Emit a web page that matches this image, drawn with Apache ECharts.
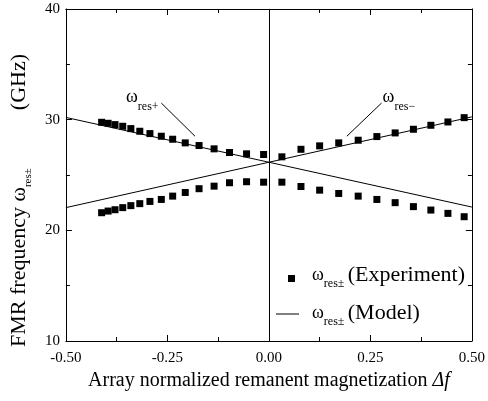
<!DOCTYPE html>
<html>
<head>
<meta charset="utf-8">
<script src="https://cdn.jsdelivr.net/npm/echarts@6/dist/echarts.min.js"></script>
<style>
  html, body { margin: 0; padding: 0; background: #fff; }
  #chart { width: 488px; height: 401px; }
</style>
</head>
<body>
<div id="chart"></div>
<script>
// measured points (Experiment)
var expX = [-0.412, -0.396, -0.379, -0.360, -0.340, -0.318, -0.293, -0.265, -0.237, -0.206, -0.172, -0.135, -0.097, -0.055, -0.013,
            0.032, 0.079, 0.125, 0.172, 0.220, 0.266, 0.311, 0.356, 0.399, 0.441, 0.481];
var expUpper = [29.76, 29.67, 29.55, 29.40, 29.19, 28.95, 28.74, 28.50, 28.23, 27.90, 27.66, 27.36, 27.03, 26.91, 26.85,
                26.64, 27.32, 27.63, 27.90, 28.14, 28.47, 28.80, 29.13, 29.49, 29.79, 30.18];
var expLower = [21.59, 21.74, 21.86, 22.05, 22.23, 22.41, 22.61, 22.79, 23.09, 23.42, 23.76, 23.99, 24.30, 24.39, 24.35,
                24.35, 23.96, 23.63, 23.33, 23.09, 22.79, 22.50, 22.14, 21.83, 21.53, 21.23];

// model lines (end points)
var modelX = [-0.5, 0.5];
var modelPlus = [30.2, 22.1];
var modelMinus = [22.05, 30.25];

// leader lines for the two labels, in data units
var leaderPlus = [[-0.265, 31.5], [-0.182, 28.5]];
var leaderMinus = [[0.2775, 31.5], [0.192, 28.5]];
var labelPlusAt = [-0.352, 32.8];
var labelMinusAt = [0.28, 32.8];

var FONT = '"Liberation Serif", "Times New Roman", serif';

function pairs(xs, ys) {
  return xs.map(function (x, i) { return [x, ys[i]]; });
}

var chart = echarts.init(document.getElementById('chart'));

var axisBase = {
  type: 'value',
  axisLine: { show: true, onZero: false, lineStyle: { color: '#000', width: 1 } },
  axisTick: { show: true, inside: true, length: 6, lineStyle: { color: '#000' } },
  minorTick: { show: true, splitNumber: 2, length: 4, lineStyle: { color: '#000' } },
  splitLine: { show: false },
  minorSplitLine: { show: false }
};

function xAx(pos) {
  return Object.assign({}, axisBase, {
    position: pos,
    min: -0.5, max: 0.5, interval: 0.25,
    axisLabel: {
      show: pos === 'bottom', color: '#000', fontFamily: FONT, fontSize: 15, margin: 10,
      formatter: function (v) { return v.toFixed(2); }
    },
    name: pos === 'bottom' ? 'Array normalized remanent magnetization {i|Δf}' : '',
    nameLocation: 'middle',
    nameGap: 30,
    nameTextStyle: {
      color: '#000', fontFamily: FONT, fontSize: 20,
      rich: { i: { fontFamily: FONT, fontSize: 20, fontStyle: 'italic', color: '#000' } }
    }
  });
}

function yAx(pos) {
  return Object.assign({}, axisBase, {
    position: pos,
    min: 10, max: 40, interval: 10,
    axisLabel: { show: pos === 'left', color: '#000', fontFamily: FONT, fontSize: 15, margin: 6 },
    name: pos === 'left' ? '{t|FMR frequency }{w|ω}{s|res±}{g|(GHz)}' : '',
    nameLocation: 'middle',
    nameRotate: 90,
    nameGap: 31,
    nameTextStyle: {
      color: '#000', fontFamily: FONT, fontSize: 22,
      rich: {
        t: { fontFamily: FONT, fontSize: 22, color: '#000', lineHeight: 30, verticalAlign: 'middle' },
        w: { fontFamily: FONT, fontSize: 22, color: '#000', lineHeight: 30, verticalAlign: 'middle' },
        s: { fontFamily: FONT, fontSize: 11, color: '#000', lineHeight: 30, verticalAlign: 'bottom' },
        g: { fontFamily: FONT, fontSize: 22, color: '#000', lineHeight: 30, verticalAlign: 'middle', padding: [0, 51, 0, 58] }
      }
    }
  });
}

var subRich = {
  w: { fontFamily: FONT, fontSize: 18, color: '#000', lineHeight: 30, verticalAlign: 'middle' },
  s: { fontFamily: FONT, fontSize: 12, color: '#000', lineHeight: 30, verticalAlign: 'bottom' },
  t: { fontFamily: FONT, fontSize: 22, color: '#000', lineHeight: 30, verticalAlign: 'middle' }
};

var option = {
  animation: false,
  backgroundColor: '#fff',
  grid: { left: 65, right: 14, top: 8, bottom: 60, containLabel: false },
  xAxis: [xAx('bottom'), xAx('top')],
  yAxis: [yAx('left'), yAx('right')],
  series: [
    {
      name: 'Experiment',
      type: 'scatter',
      symbol: 'rect',
      symbolSize: 7,
      itemStyle: { color: '#000', opacity: 1 },
      data: pairs(expX, expUpper).concat(pairs(expX, expLower)),
      z: 3
    },
    {
      name: 'Model+',
      type: 'line',
      symbol: 'none',
      lineStyle: { color: '#000', width: 1 },
      data: pairs(modelX, modelPlus),
      markLine: {
        silent: true,
        symbol: 'none',
        label: { show: false },
        lineStyle: { color: '#000', width: 1, type: 'solid' },
        data: [
          { xAxis: 0 },
          [{ coord: leaderPlus[0] }, { coord: leaderPlus[1] }],
          [{ coord: leaderMinus[0] }, { coord: leaderMinus[1] }]
        ]
      }
    },
    {
      name: 'Model-',
      type: 'line',
      symbol: 'none',
      lineStyle: { color: '#000', width: 1 },
      data: pairs(modelX, modelMinus)
    }
  ]
};
chart.setOption(option);

// text labels placed from data coordinates
var pPlus = chart.convertToPixel({ gridIndex: 0 }, labelPlusAt);
var pMinus = chart.convertToPixel({ gridIndex: 0 }, labelMinusAt);

chart.setOption({
  graphic: [
    { type: 'text', left: pPlus[0], top: pPlus[1], style: { text: '{w|ω}{s|res+}', rich: subRich } },
    { type: 'text', left: pMinus[0], top: pMinus[1], style: { text: '{w|ω}{s|res−}', rich: subRich } },
    // legend
    { type: 'rect', shape: { x: 288, y: 275, width: 7, height: 7 }, style: { fill: '#000' } },
    { type: 'text', left: 312, top: 264, style: { text: '{w|ω}{s|res±} {t|(Experiment)}', rich: subRich } },
    { type: 'line', shape: { x1: 276, y1: 314, x2: 299, y2: 314 }, style: { stroke: '#000', lineWidth: 1 } },
    { type: 'text', left: 312, top: 302, style: { text: '{w|ω}{s|res±} {t|(Model)}', rich: subRich } }
  ]
});
</script>
</body>
</html>
